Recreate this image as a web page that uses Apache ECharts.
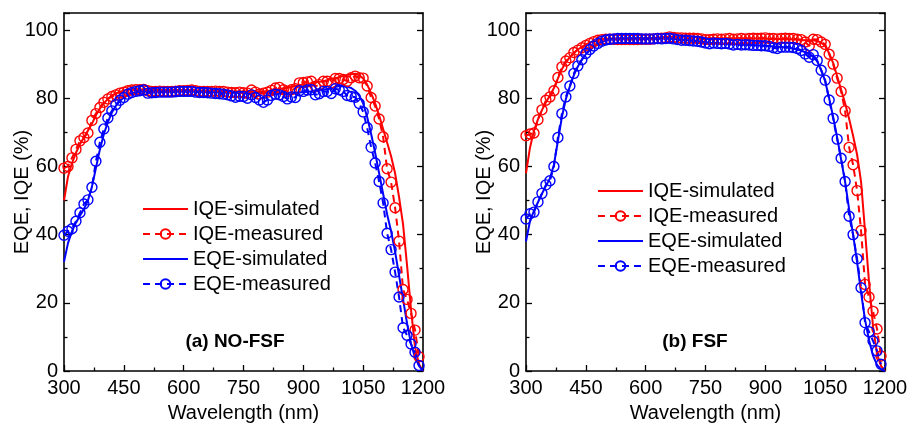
<!DOCTYPE html>
<html><head><meta charset="utf-8">
<script src="https://cdn.jsdelivr.net/npm/echarts@6/dist/echarts.min.js"></script>
<style>html,body{margin:0;padding:0;background:#fff}#c{width:910px;height:426px}</style>
</head><body><div id="c"></div>
<script>
// wavelengths (nm)
const wlMeas = [300,310,320,330,340,350,360,370,380,390,400,410,420,430,440,450,460,470,480,490,
500,510,520,530,540,550,560,570,580,590,600,610,620,630,640,650,660,670,680,690,
700,710,720,730,740,750,760,770,780,790,800,810,820,830,840,850,860,870,880,890,
900,910,920,930,940,950,960,970,980,990,1000,1010,1020,1030,1040,1050,1060,1070,1080,1090,
1100,1110,1120,1130,1140,1150,1160,1170,1180,1190];
const wlSim = [300,310,320,330,340,350,360,370,380,390,400,410,420,430,440,450,460,470,480,490,
500,510,520,530,540,550,560,570,580,590,600,610,620,630,640,650,660,670,680,690,
700,710,720,730,740,750,760,770,780,790,800,810,820,830,840,850,860,870,880,890,
900,910,920,930,940,950,960,970,980,990,1000,1010,1020,1030,1040,1050,1060,1070,1080,1090,
1100,1110,1120,1130,1140,1150,1160,1170,1180,1190,1200];

// (a) NO-FSF
const aIqeMeas = [59.5,60,62.5,65,67.5,68.5,69.8,73.5,75.5,77.3,
78.8,79.8,80.5,81,81.5,81.8,82.2,82.4,82.5,82.5,
82.6,82.2,82,82,82.1,82,82,82,82.1,82.2,
82.2,82.3,82.4,82.2,82,82,82,82,82.1,82,
82,81.8,81.7,81.6,81.8,81.6,81.5,82.4,81.8,81.2,
81.5,81.8,82.3,83,83.2,82.5,82,82.5,82.8,84.5,
84.6,84.8,85,83.5,84,85,85,84.5,85.8,85.8,
85.5,85,86,86.5,86,85.9,83.6,80.2,77.7,73.9,
68.7,59.3,55.4,47.9,38.1,23.9,21,16.9,12,4.2];
const aEqeMeas = [39.8,41,41.7,43.9,46.4,49,50.2,53.9,61.5,67.1,
71,74.2,76.3,78.1,79.4,80.2,81.2,81.7,82,82.2,
82.4,81.5,81.6,81.7,81.8,81.8,81.8,81.8,81.9,82,
82,82,82,81.8,81.7,81.7,81.6,81.5,81.4,81.3,
81.2,81,80.7,80.3,80.6,80.5,80,81,80.2,79.5,
78.8,79.5,80.8,81.2,81,80.5,79.8,80.4,80.2,82.2,
82,82.4,82.5,81,81.3,82,82,81.4,82.8,82.5,
82,80.8,80.5,80.3,78.5,76,71.4,65.6,61,55.6,
49.3,40.4,35.6,29,21.7,12.7,10.5,7.9,5.5,1.6];
const aIqeSim = [50,57,61,64,66.5,68.5,70.5,72.5,75,77,
78.5,79.8,80.8,81.4,81.9,82.2,82.5,82.6,82.6,82.6,
82.5,82.5,82.5,82.4,82.4,82.4,82.4,82.4,82.4,82.4,
82.4,82.4,82.4,82.3,82.3,82.3,82.3,82.2,82.2,82.2,
82.1,82.1,82,82,82,82,82,82,82,82,
82,82.1,82.3,82.5,82.7,82.9,83.1,83.3,83.5,83.8,
84,84.2,84.4,84.6,84.8,85,85.3,85.6,85.9,86.2,
86.5,86.8,87,87.2,86.8,85.8,84,81.5,78.5,75,
71,67,63,58,51,43,31,18,7,2,0];
const aEqeSim = [32,37.5,41,43.5,45.5,47.5,50,54,59.5,65,
69.5,73,75.8,77.8,79.2,80.2,80.9,81.4,81.7,81.9,
82,82,82,82,82,82,82,82,82,82,
82,82,82,81.9,81.9,81.9,81.8,81.8,81.8,81.7,
81.7,81.7,81.6,81.6,81.6,81.5,81.5,81.5,81.5,81.5,
81.5,81.5,81.5,81.5,81.5,81.5,81.5,81.6,81.6,81.7,
81.8,81.9,82,82.1,82.3,82.5,82.7,82.9,83.3,83.6,
83.6,83.4,83,82.2,80.8,78.5,74.5,69.5,64,58,
52,46,41,35,28,21,14,8,4,1.5,0];

// (b) FSF
const bIqeMeas = [69,69.5,69.8,73.7,76.6,79.4,80.4,82.2,86.1,89.2,
90.9,91.9,93.4,94.1,94.8,95.5,96.1,96.6,97,97.2,
97.3,97.3,97.3,97.2,97.2,97.2,97.2,97.2,97.2,97.3,
97.3,97.3,97.4,97.5,97.6,97.7,98,97.8,97.7,97.7,
97.6,97.6,97.6,97.5,97.4,97.2,97.2,97.3,97.4,97.3,
97.4,97.5,97.3,97.4,97.5,97.4,97.5,97.6,97.5,97.6,
97.7,97.5,97.5,97.4,97.5,97.6,97.5,97.5,97.3,97.2,
96.5,95.3,97.3,97.2,96.5,95.8,92.9,90,85.9,82,
76.3,65.6,60.5,52.9,41.2,25.4,21.7,17.5,12.3,4.4];
const bEqeMeas = [44.6,46.1,46.6,49.6,52.1,54.6,55.8,60,68.5,75.5,
80.4,83.6,87.3,89.5,91.3,93.1,94.3,95.3,96.1,96.7,
97.1,97.3,97.4,97.5,97.5,97.5,97.5,97.5,97.5,97.4,
97.4,97.4,97.4,97.5,97.4,97.5,97.6,97.4,97.2,97,
97,96.9,96.8,96.7,96.5,96.2,96,96.2,96.1,96,
96.1,95.9,95.6,95.8,95.6,95.7,95.6,95.5,95.5,95.4,
95.4,95.2,94.8,94.6,95,95,95,94.9,94.6,94,
93,92,92.8,91.1,88.2,85.3,79.5,74.1,68,62.4,
55.6,45.4,40,32.9,24.4,14.2,11.5,8.8,5.9,2];
const bIqeSim = [58,65.5,70.5,73.8,76.5,78.8,80.8,83,85.8,88.5,
90.6,92,93.3,94.3,95.1,95.8,96.3,96.8,97.1,97.3,
97.4,97.5,97.5,97.5,97.5,97.5,97.5,97.5,97.6,97.6,
97.6,97.7,97.7,97.8,97.9,98,98,98,98,98,
98,98,98,97.9,97.8,97.7,97.6,97.6,97.6,97.6,
97.6,97.6,97.6,97.6,97.6,97.6,97.5,97.5,97.5,97.5,
97.5,97.4,97.4,97.4,97.4,97.3,97.3,97.3,97.2,97.1,
97,97,97,96.8,96.3,95.3,93.2,90.3,86.5,82.5,
78.5,74,69,63.5,55.5,41,26,13,5,1.5,0];
const bEqeSim = [38,44,47,49.5,52,54.3,56.5,60.5,67.5,74.5,
79.8,83.5,86.8,89.3,91.3,92.9,94.1,95.1,95.9,96.5,
96.9,97.2,97.3,97.4,97.5,97.5,97.5,97.5,97.5,97.5,
97.5,97.5,97.5,97.5,97.5,97.5,97.5,97.4,97.3,97.2,
97.1,97,96.9,96.8,96.6,96.5,96.3,96.2,96.1,96,
96,95.9,95.8,95.8,95.7,95.7,95.6,95.6,95.5,95.5,
95.4,95.3,95.2,95.1,95,94.9,94.8,94.6,94.3,94,
93.5,93,92.2,90.8,88.3,85,80,74.5,68.5,62,
55.5,47.5,40,32,23,15,9,4.5,1.8,0.5,0];

const xTicks = [300,450,600,750,900,1050,1200];
const yTicks = [0,20,40,60,80,100];
const legendNames = ['IQE-simulated','IQE-measured','EQE-simulated','EQE-measured'];
const panelLabels = ['(a) NO-FSF','(b) FSF'];

const FONT = 'Liberation Sans, Arial, sans-serif';
const FS = 20;
const RED = '#ff0000', BLUE = '#0000ff';
function zip(x, y){ return x.map((v,i)=>[v, y[i]]); }

const grids = [
  {left:64, top:13, width:359, height:358, outerBoundsMode:'none', containLabel:false},
  {left:526, top:13, width:359, height:358, outerBoundsMode:'none', containLabel:false}
];
function xAx(i){
  return {type:'value', gridIndex:i, min:300, max:1200, interval:150,
    axisLine:{show:true, onZero:false, lineStyle:{color:'#000', width:1.6}},
    axisTick:{show:true, inside:true, length:6, lineStyle:{color:'#000', width:1.3}},
    minorTick:{show:true, splitNumber:2, length:3.5, lineStyle:{color:'#000', width:1.3}},
    splitLine:{show:false},
    axisLabel:{color:'#000', fontSize:FS, fontFamily:FONT, margin:7,
      formatter:v=> xTicks.includes(v) ? String(v) : ''},
    name:'Wavelength (nm)', nameLocation:'middle', nameGap:32, nameMoveOverlap:false,
    nameTextStyle:{color:'#000', fontSize:FS, fontFamily:FONT}};
}
function xTop(i){
  return {type:'value', gridIndex:i, position:'top', min:300, max:1200, interval:150,
    axisLine:{show:true, onZero:false, lineStyle:{color:'#000', width:1.6}},
    axisTick:{show:false}, axisLabel:{show:false}, splitLine:{show:false}};
}
function yAx(i, right){
  return {type:'value', gridIndex:i, min:0, max:105, interval:20, position: right?'right':'left',
    axisLine:{show:true, onZero:false, lineStyle:{color:'#000', width:1.6}},
    axisTick:{show:true, inside:true, length:6, lineStyle:{color:'#000', width:1.3}},
    minorTick:{show:true, splitNumber:2, length:3.5, lineStyle:{color:'#000', width:1.3}},
    splitLine:{show:false},
    axisLabel: right ? {show:false} : {color:'#000', fontSize:FS, fontFamily:FONT, margin:6,
      formatter:v=> yTicks.includes(v) ? String(v) : ''},
    name: right ? '' : 'EQE, IQE (%)', nameLocation:'middle', nameGap:32, nameMoveOverlap:false,
    nameTextStyle:{color:'#000', fontSize:FS, fontFamily:FONT}};
}
function simSeries(name, xi, yi, wl, vals, color){
  return {name, type:'line', xAxisIndex:xi, yAxisIndex:yi, data:zip(wl, vals),
    symbol:'none', smooth:false, lineStyle:{color, width:2}, itemStyle:{color}, z:2};
}
function measSeries(name, xi, yi, wl, vals, color){
  return {name, type:'line', xAxisIndex:xi, yAxisIndex:yi, data:zip(wl, vals),
    symbol:'circle', symbolSize:10, showSymbol:true,
    lineStyle:{color, width:2, type:[7,5]},
    itemStyle:{color:'rgba(255,255,255,0)', borderColor:color, borderWidth:1.4}, z:3};
}
const legendData = legendNames.map(n => n.indexOf('simulated') > -1 ? {name:n, itemStyle:{opacity:0}} : {name:n});
function legend(left, top){
  return {data:legendData, orient:'vertical', left, top, itemWidth:45, itemHeight:12, itemGap:5,
    selectedMode:false, textStyle:{color:'#000', fontSize:FS, fontFamily:FONT, lineHeight:20}};
}

const option = {
  animation:false,
  backgroundColor:'#fff',
  grid:grids,
  xAxis:[xAx(0), xAx(1), xTop(0), xTop(1)],
  yAxis:[yAx(0,false), yAx(0,true), yAx(1,false), yAx(1,true)],
  legend:[legend(137, 194), legend(592, 176)],
  series:[
    simSeries('IQE-simulated', 0, 0, wlSim, aIqeSim, RED),
    measSeries('IQE-measured', 0, 0, wlMeas, aIqeMeas, RED),
    simSeries('EQE-simulated', 0, 0, wlSim, aEqeSim, BLUE),
    measSeries('EQE-measured', 0, 0, wlMeas, aEqeMeas, BLUE),
    simSeries('IQE-simulated', 1, 2, wlSim, bIqeSim, RED),
    measSeries('IQE-measured', 1, 2, wlMeas, bIqeMeas, RED),
    simSeries('EQE-simulated', 1, 2, wlSim, bEqeSim, BLUE),
    measSeries('EQE-measured', 1, 2, wlMeas, bEqeMeas, BLUE)
  ],
  graphic:[
    {type:'text', x:235, y:342, style:{text:panelLabels[0], fill:'#000', font:'bold 19px '+FONT, textAlign:'center', textVerticalAlign:'middle'}},
    {type:'text', x:695, y:342, style:{text:panelLabels[1], fill:'#000', font:'bold 19px '+FONT, textAlign:'center', textVerticalAlign:'middle'}}
  ]
};
const chart = echarts.init(document.getElementById('c'), null, {renderer:'canvas'});
chart.setOption(option);
</script>
</body></html>
